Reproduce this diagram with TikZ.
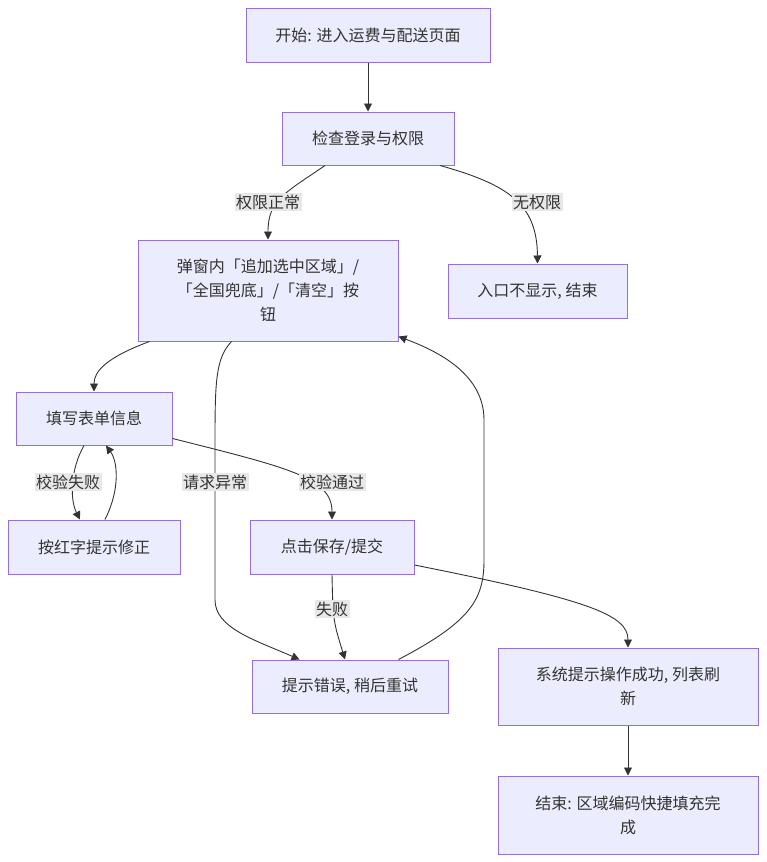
\documentclass[tikz,border=0pt]{standalone}
\usepackage{fontspec}
\setmainfont{Noto Sans CJK SC}
\usetikzlibrary{arrows.meta,calc}
\definecolor{boxfill}{HTML}{ECECFF}
\definecolor{boxline}{HTML}{9370DB}
\definecolor{txt}{HTML}{333333}
\definecolor{lblbg}{HTML}{E8E8E8}
\tikzset{
  box/.style={draw=boxline, fill=boxfill, line width=1pt, text=txt, align=center, inner sep=0pt,
    font=\fontsize{16}{24}\selectfont},
  lbl/.style={fill=lblbg, text=txt, inner sep=1.5pt, font=\fontsize{16}{18}\selectfont},
  edge/.style={draw=txt, line width=0.9pt, -{Triangle[length=8pt,width=8pt]}},
}
\begin{document}
\begin{tikzpicture}[x=1pt,y=-1pt]
\useasboundingbox (0,0) rectangle (766,862);
\node[box, minimum width=244, minimum height=54] (A) at (368,35) {开始: 进入运费与配送页面};
\node[box, minimum width=172, minimum height=53] (B) at (368,138.5) {检查登录与权限};
\node[box, minimum width=260, minimum height=101] (C) at (268,290.5) {弹窗内「追加选中区域」/\\「全国兜底」/「清空」按\\钮};
\node[box, minimum width=179, minimum height=54] (D) at (537.5,291) {入口不显示, 结束};
\node[box, minimum width=156, minimum height=53] (E) at (94,418.5) {填写表单信息};
\node[box, minimum width=172, minimum height=54] (F) at (94,547) {按红字提示修正};
\node[box, minimum width=164, minimum height=54] (G) at (332,547) {点击保存/提交};
\node[box, minimum width=196, minimum height=53] (H) at (350,686.5) {提示错误, 稍后重试};
\node[box, minimum width=260, minimum height=77] (I) at (628,686.5) {系统提示操作成功, 列表刷\\新};
\node[box, minimum width=260, minimum height=78] (J) at (628,815) {结束: 区域编码快捷填充完\\成};

\draw[edge] (A.south) -- (B.north);
\draw[edge] ($(B.south)+(-43,0)$) .. controls (285,193) and (268,200) .. (C.north);
\draw[edge] ($(B.south)+(72,0)$) .. controls (510,185) and (537,205) .. (D.north);
\draw[edge] ($(C.south west)+(12,0)$) .. controls (105,358) and (94,372) .. (E.north);
\draw[edge] ($(C.south west)+(94,0)$) .. controls (216,358) and (215,380) .. (215,440) -- (215,600)
  .. controls (215,628) and (255,640) .. ($(H.north west)+(48,0)$);
\draw[edge] ($(E.east)+(0,20)$) .. controls (290,468) and (332,478) .. (G.north);
\draw[edge] ($(E.south)+(-10,0)$) .. controls (70,470) and (70,500) .. ($(F.north)+(-14,0)$);
\draw[edge] ($(F.north)+(11,0)$) .. controls (120,490) and (118,462) .. ($(E.south)+(12,0)$);
\draw[edge] (G.south) .. controls (333,620) .. ($(H.north)+(-5,0)$);
\draw[edge] ($(G.east)+(0,18)$) .. controls (590,600) and (628,615) .. (I.north);
\draw[edge] ($(H.north east)+(-50,0)$) .. controls (470,622) and (484,600) .. (484,560) -- (484,420)
  .. controls (484,375) and (440,352) .. ($(C.south east)+(0,-5)$);
\draw[edge] (I.south) -- (J.north);

\node[lbl] (l1) at (268,202) {权限正常};
\node[lbl] (l2) at (537,202) {无权限};
\node[lbl] (l3) at (68,482) {校验失败};
\node[lbl] (l4) at (215,482) {请求异常};
\node[lbl] (l5) at (332,482) {校验通过};
\node[lbl] (l6) at (332,609) {失败};
\end{tikzpicture}
\end{document}
